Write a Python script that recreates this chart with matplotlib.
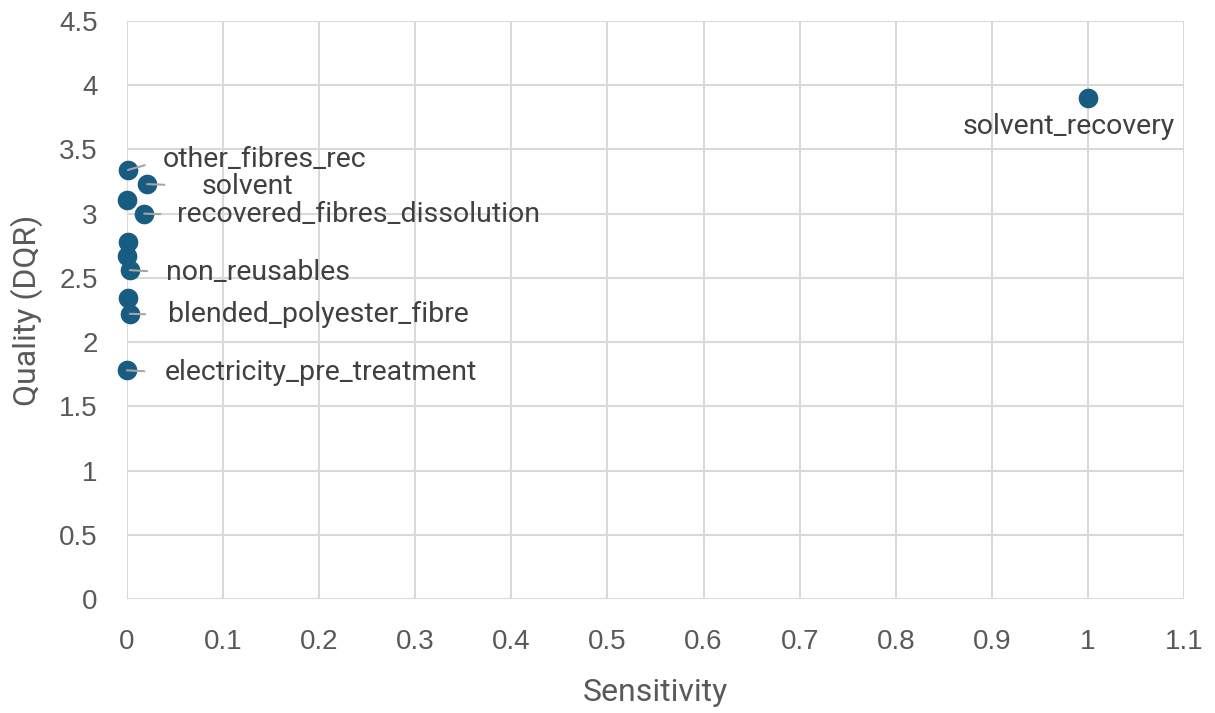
import numpy as np
import matplotlib.pyplot as plt

sensitivity = [1.0, 0.001, 0.021, 0.0, 0.018, 0.001, 0.0, 0.003, 0.001, 0.003, 0.0]
quality = [3.90, 3.34, 3.23, 3.11, 3.00, 2.78, 2.67, 2.56, 2.34, 2.22, 1.78]
labels = ['solvent_recovery', 'other_fibres_rec', 'solvent', '', 'recovered_fibres_dissolution',
          '', '', 'non_reusables', '', 'blended_polyester_fibre', 'electricity_pre_treatment']
# label offsets in pixels (dx, dy) relative to the point, and gap before text
offsets = [(-19, -28), (35, 10), (54, -2), (0, 0), (33, -1),
           (0, 0), (0, 0), (36, -2), (0, 0), (38, -1), (38, -2)]
gaps = [0, 16, 34, 0, 14, 0, 0, 16, 0, 20, 18]

plt.rcParams['font.family'] = ['Roboto', 'DejaVu Sans']

fig = plt.figure(figsize=(12.15, 7.13), dpi=100)
ax = fig.add_axes([0.1045, 0.160, 0.870, 0.8105])

ax.scatter(sensitivity, quality, s=200, color='#185c82', zorder=3, linewidths=0, clip_on=False)

for x, y, lab, (dx, dy), g in zip(sensitivity, quality, labels, offsets, gaps):
    if not lab:
        continue
    if lab == 'solvent_recovery':
        ax.annotate(lab, (x, y), xytext=(dx * 0.72, dy * 0.72), textcoords='offset points',
                    ha='center', va='center', fontsize=20.5, color='#404040')
    else:
        ax.annotate(lab, (x, y), xytext=(dx * 0.72, dy * 0.72), textcoords='offset points',
                    ha='left', va='center', fontsize=20.5, color='#404040',
                    arrowprops=dict(arrowstyle='-', color='#a6a6a6', lw=1.5,
                                    shrinkA=g * 0.72, shrinkB=0, relpos=(0, 0.5)))

ax.set_xlim(0, 1.1)
ax.set_ylim(0, 4.5)
ax.set_xticks(np.arange(0, 1.11, 0.1))
ax.set_xticklabels(['0', '0.1', '0.2', '0.3', '0.4', '0.5', '0.6', '0.7', '0.8', '0.9', '1', '1.1'])
ax.set_yticks(np.arange(0, 4.51, 0.5))
ax.set_yticklabels(['0', '0.5', '1', '1.5', '2', '2.5', '3', '3.5', '4', '4.5'])
ax.tick_params(axis='y', length=0, labelsize=20, labelcolor='#595959', pad=21)
ax.tick_params(axis='x', length=0, labelsize=20, labelcolor='#595959', pad=22)
for lab in ax.get_xticklabels() + ax.get_yticklabels():
    lab.set_family(['Liberation Sans', 'DejaVu Sans'])

ax.grid(True, color='#d9d9d9', lw=1.5)
ax.set_axisbelow(True)
for s in ax.spines.values():
    s.set_visible(False)

ax.set_xlabel('Sensitivity', fontsize=23, color='#595959', labelpad=16)
ax.set_ylabel('Quality (DQR)', fontsize=23, color='#595959', labelpad=12)

fig.savefig('out.png', dpi=100)
